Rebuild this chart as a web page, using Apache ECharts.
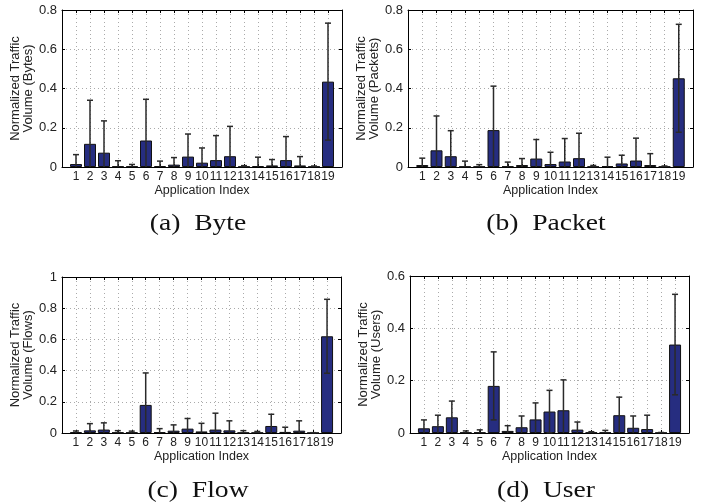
<!DOCTYPE html>
<html>
<head>
<meta charset="utf-8">
<script src="https://cdn.jsdelivr.net/npm/echarts@6/dist/echarts.min.js"></script>
<style>
  html, body { margin: 0; padding: 0; background: #fff; }
  #main { width: 705px; height: 502px; }
</style>
</head>
<body>
<div id="main"></div>
<script>
  // application index 1..19
  const apps = [1, 2, 3, 4, 5, 6, 7, 8, 9, 10, 11, 12, 13, 14, 15, 16, 17, 18, 19];

  // normalized traffic volume: mean and std per application
  const byteMean = [0.015, 0.118, 0.073, 0.003, 0.003, 0.135, 0.005, 0.012, 0.053, 0.022, 0.035, 0.055, 0.002, 0.005, 0.008, 0.035, 0.008, 0.002, 0.435];
  const byteStd  = [0.048, 0.222, 0.162, 0.029, 0.010, 0.210, 0.025, 0.036, 0.115, 0.075, 0.125, 0.152, 0.005, 0.045, 0.030, 0.120, 0.045, 0.003, 0.298];

  const packetMean = [0.010, 0.085, 0.055, 0.002, 0.002, 0.188, 0.003, 0.010, 0.043, 0.015, 0.028, 0.045, 0.002, 0.005, 0.018, 0.033, 0.010, 0.002, 0.452];
  const packetStd  = [0.035, 0.175, 0.130, 0.028, 0.010, 0.224, 0.022, 0.033, 0.097, 0.060, 0.117, 0.127, 0.006, 0.045, 0.042, 0.114, 0.058, 0.003, 0.275];

  const flowMean = [0.005, 0.017, 0.022, 0.003, 0.003, 0.180, 0.005, 0.015, 0.028, 0.010, 0.022, 0.017, 0.002, 0.002, 0.045, 0.007, 0.015, 0.001, 0.620];
  const flowStd  = [0.008, 0.043, 0.043, 0.012, 0.009, 0.205, 0.023, 0.037, 0.065, 0.052, 0.105, 0.061, 0.013, 0.008, 0.075, 0.030, 0.063, 0.001, 0.237];

  const userMean = [0.018, 0.026, 0.060, 0.002, 0.002, 0.180, 0.008, 0.022, 0.052, 0.082, 0.087, 0.013, 0.002, 0.002, 0.068, 0.020, 0.015, 0.001, 0.338];
  const userStd  = [0.032, 0.042, 0.062, 0.006, 0.010, 0.130, 0.020, 0.043, 0.063, 0.081, 0.116, 0.029, 0.003, 0.008, 0.069, 0.045, 0.053, 0.001, 0.192];

  const yMax = [0.8, 0.8, 1, 0.6];
  const yNames = ['Normalized Traffic\nVolume (Bytes)', 'Normalized Traffic\nVolume (Packets)',
                  'Normalized Traffic\nVolume (Flows)', 'Normalized Traffic\nVolume (Users)'];
  const captions = ['(a)  Byte', '(b)  Packet', '(c)  Flow', '(d)  User'];
  const means = [byteMean, packetMean, flowMean, userMean];
  const stds = [byteStd, packetStd, flowStd, userStd];

  const grids = [
    { left: 62,  top: 10,  width: 280, height: 157 },
    { left: 408, top: 10,  width: 285, height: 157 },
    { left: 62,  top: 277, width: 279, height: 156 },
    { left: 410, top: 276, width: 279, height: 157 }
  ];

  const font = 'Liberation Sans, Arial, sans-serif';
  const dotted = { show: true, lineStyle: { color: '#aaa', type: [1, 3], width: 1 } };

  const xAxis = [], yAxis = [], series = [];
  grids.forEach((g, i) => {
    // bottom axis with labels
    xAxis.push({
      type: 'value', gridIndex: i, min: 0, max: 20, interval: 1,
      name: 'Application Index', nameLocation: 'middle', nameGap: 16,
      nameTextStyle: { fontFamily: font, fontSize: 12.5, color: '#222' },
      axisLine: { lineStyle: { color: '#000' } },
      axisTick: { inside: true, length: 3, lineStyle: { color: '#000' } },
      axisLabel: { fontFamily: font, fontSize: 12, color: '#222', margin: 4,
        formatter: v => (v >= 1 && v <= 19) ? String(v) : '' },
      splitLine: dotted
    });
    // top box line
    xAxis.push({
      type: 'value', gridIndex: i, min: 0, max: 20, interval: 1, position: 'top',
      axisLine: { show: true, onZero: false, lineStyle: { color: '#000' } },
      axisTick: { inside: true, length: 3, lineStyle: { color: '#000' } },
      axisLabel: { show: false }, splitLine: { show: false }
    });
    yAxis.push({
      type: 'value', gridIndex: i, min: 0, max: yMax[i], interval: 0.2,
      name: yNames[i], nameLocation: 'middle', nameGap: 25,
      nameTextStyle: { fontFamily: font, fontSize: 13, color: '#222', lineHeight: 13 },
      axisLine: { show: true, lineStyle: { color: '#000' } },
      axisTick: { show: true, inside: true, length: 3, lineStyle: { color: '#000' } },
      axisLabel: { fontFamily: font, fontSize: 13, color: '#222', margin: 5 },
      splitLine: dotted
    });
    yAxis.push({
      type: 'value', gridIndex: i, min: 0, max: yMax[i], interval: 0.2, position: 'right',
      axisLine: { show: true, onZero: false, lineStyle: { color: '#000' } },
      axisTick: { show: true, inside: true, length: 3, lineStyle: { color: '#000' } },
      axisLabel: { show: false }, splitLine: { show: false }
    });

    series.push({
      type: 'bar', xAxisIndex: i * 2, yAxisIndex: i * 2, barWidth: 12,
      itemStyle: { color: '#262d80', borderColor: '#111', borderWidth: 1 },
      data: apps.map((a, k) => [a, means[i][k]]),
      z: 2
    });
    series.push({
      type: 'custom', xAxisIndex: i * 2, yAxisIndex: i * 2, z: 3,
      data: apps.map((a, k) => [a, means[i][k] - stds[i][k], means[i][k] + stds[i][k]]),
      renderItem: (params, api) => {
        const x = api.value(0);
        const lo = api.value(1), hi = api.value(2);
        const pTop = api.coord([x, hi]);
        const pBot = api.coord([x, Math.max(lo, 0)]);
        const style = { stroke: '#2a2a2a', lineWidth: 1.5 };
        const cap = 3;
        const children = [
          { type: 'line', shape: { x1: pTop[0], y1: pTop[1], x2: pBot[0], y2: pBot[1] }, style },
          { type: 'line', shape: { x1: pTop[0] - cap, y1: pTop[1], x2: pTop[0] + cap, y2: pTop[1] }, style }
        ];
        if (lo > 0) {
          children.push({ type: 'line', shape: { x1: pBot[0] - cap, y1: pBot[1], x2: pBot[0] + cap, y2: pBot[1] }, style });
        }
        return { type: 'group', children };
      }
    });
  });

  // caption anchor (centre of text)
  const capPos = [[198, 224], [546, 224], [198, 491], [546, 491]];
  const graphic = captions.map((c, i) => ({
    type: 'text', x: capPos[i][0], y: capPos[i][1], scaleX: 1.15,
    style: { text: c, fontFamily: 'Liberation Serif, Times New Roman, serif', fontSize: 24,
      fill: '#111', textAlign: 'center', textVerticalAlign: 'middle' }
  }));

  const chart = echarts.init(document.getElementById('main'));
  chart.setOption({
    animation: false,
    grid: grids,
    xAxis, yAxis, series, graphic
  });
</script>
</body>
</html>
